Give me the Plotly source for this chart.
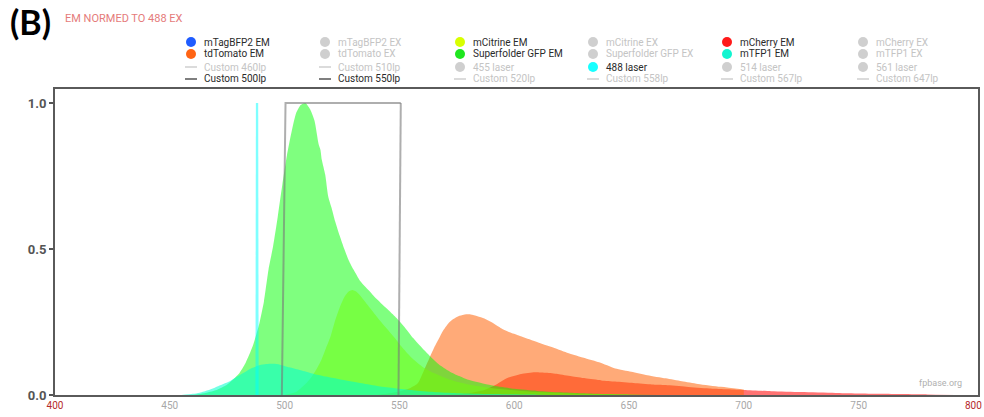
import plotly.graph_objects as go

# ---------------------------------------------------------------- data
# Emission spectra (normalised to 488 nm excitation), wavelength in nm
sfgfp_wl = [460, 465, 470, 475, 480, 483, 486, 489, 491, 493, 495, 497, 499, 501, 503, 505, 507, 509,
            511, 513, 514.8, 515.6, 516.2, 517.7, 519, 520.5, 522, 524, 526, 528, 530, 533, 536.5, 540,
            544, 548, 552, 556, 560, 564, 568, 572, 576, 580, 590, 600, 610, 620, 635, 650, 670]
sfgfp_em = [0.0, 0.006, 0.016, 0.036, 0.072, 0.11, 0.165, 0.245, 0.32, 0.43, 0.51, 0.61, 0.72, 0.82,
            0.9, 0.965, 0.993, 1.0, 0.98, 0.94, 0.86, 0.84, 0.806, 0.754, 0.68, 0.64, 0.595, 0.545, 0.5,
            0.46, 0.43, 0.39, 0.36, 0.33, 0.30, 0.27, 0.235, 0.195, 0.16, 0.128, 0.1, 0.08, 0.065, 0.052,
            0.033, 0.021, 0.014, 0.009, 0.004, 0.002, 0.0]

citrine_wl = [500, 505, 510, 512, 514, 516, 518, 520, 522, 524, 526, 528, 529.5, 531, 533, 536, 540,
              544, 548, 551, 555, 560, 565, 570, 575, 580, 590, 600, 610, 620, 630, 650, 660]
citrine_em = [0.0, 0.01, 0.045, 0.065, 0.09, 0.12, 0.16, 0.2, 0.255, 0.3, 0.335, 0.355, 0.36, 0.355,
              0.34, 0.31, 0.27, 0.232, 0.195, 0.165, 0.13, 0.097, 0.075, 0.058, 0.045, 0.036, 0.024,
              0.016, 0.01, 0.007, 0.004, 0.001, 0.0]

tdtomato_wl = [540, 545, 550, 555, 558, 561, 563, 565, 567, 569, 571.3, 573.5, 575.7, 578, 581, 584,
               587, 590, 594.5, 598, 602, 608, 616, 623, 631, 637, 644, 651, 658, 666, 673, 680, 690, 700]
tdtomato_em = [0.0, 0.005, 0.012, 0.025, 0.04, 0.09, 0.125, 0.16, 0.19, 0.22, 0.245, 0.26, 0.27, 0.275,
               0.276, 0.27, 0.262, 0.25, 0.228, 0.215, 0.204, 0.187, 0.165, 0.145, 0.126, 0.112, 0.091,
               0.08, 0.068, 0.057, 0.047, 0.038, 0.028, 0.019]

mcherry_wl = [570, 580, 587, 592, 597, 603, 609, 614, 619, 625, 631, 638, 644, 652, 660, 666, 675, 685,
              700, 712, 725, 740, 760, 780, 795]
mcherry_em = [0.0, 0.006, 0.017, 0.035, 0.058, 0.072, 0.078, 0.076, 0.072, 0.064, 0.057, 0.05, 0.046,
              0.041, 0.036, 0.034, 0.028, 0.022, 0.017, 0.013, 0.01, 0.007, 0.004, 0.002, 0.0]

mtfp1_wl = [455, 460, 463, 467, 471, 475.6, 479, 483, 486, 489, 492, 495, 498, 502, 507, 512, 518, 525,
            533.6, 541, 548, 556, 565, 575, 590, 610, 620]
mtfp1_em = [0.0, 0.004, 0.008, 0.017, 0.03, 0.045, 0.062, 0.08, 0.093, 0.102, 0.106, 0.107, 0.104, 0.095,
            0.085, 0.074, 0.063, 0.052, 0.04, 0.03, 0.023, 0.016, 0.01, 0.006, 0.003, 0.001, 0.0]

laser488_wl = [487.3, 487.5, 488.5, 488.7]
laser488_int = [0.0, 1.0, 1.0, 0.0]

lp500_wl = [498.8, 500.4, 550.6]
lp500_tr = [0.0, 1.0, 1.0]
lp550_wl = [550.6, 549.6]
lp550_tr = [1.0, 0.0]

x_ticks = [400, 450, 500, 550, 600, 650, 700, 750, 800]
y_ticks = [0.0, 0.5, 1.0]
y_tick_labels = ["0.0", "0.5", "1.0"]

# legend grid (row-major): label, symbol kind, shown?, colour
legend_names = [
    "mTagBFP2 EM", "mTagBFP2 EX", "mCitrine EM", "mCitrine EX", "mCherry EM", "mCherry EX",
    "tdTomato EM", "tdTomato EX", "Superfolder GFP EM", "Superfolder GFP EX", "mTFP1 EM", "mTFP1 EX",
    "Custom 460lp", "Custom 510lp", "455 laser", "488 laser", "514 laser", "561 laser",
    "Custom 500lp", "Custom 550lp", "Custom 520lp", "Custom 558lp", "Custom 567lp", "Custom 647lp",
]
legend_kinds = ["dot"] * 12 + ["line", "line", "dot", "dot", "dot", "dot"] + ["line"] * 6
legend_on = [True, False, True, False, True, False,
             True, False, True, False, True, False,
             False, False, False, True, False, False,
             True, True, False, False, False, False]
legend_colors = ["#1f5cff", None, "#d8ff00", None, "#ff1a1a", None,
                 "#ff6414", None, "#1fe61f", None, "#12f5d0", None,
                 None, None, None, "#18ffff", None, None,
                 "#555555", "#555555", None, None, None, None]

# ---------------------------------------------------------------- layout helpers
W, H = 984, 417
ML, MR, MT, MB = 55, 6, 89, 22
PW, PH = W - ML - MR, H - MT - MB


def fx(p):
    return (p - ML) / PW


def fy(p):
    return (H - MB - p) / PH


fig = go.Figure()


def add_fill(x, y, color, name):
    fig.add_trace(go.Scatter(
        x=x, y=y, name=name, mode="lines", fill="tozeroy",
        fillcolor=color, line=dict(width=0, shape="spline", smoothing=0.6),
        hoverinfo="skip", showlegend=False))


add_fill(mcherry_wl, mcherry_em, "rgba(255,0,0,0.55)", "mCherry EM")
add_fill(tdtomato_wl, tdtomato_em, "rgba(255,100,10,0.55)", "tdTomato EM")
add_fill(citrine_wl, citrine_em, "rgba(221,255,17,0.5)", "mCitrine EM")
add_fill(sfgfp_wl, sfgfp_em, "rgba(0,255,0,0.5)", "Superfolder GFP EM")
add_fill(mtfp1_wl, mtfp1_em, "rgba(0,255,205,0.55)", "mTFP1 EM")

fig.add_trace(go.Scatter(
    x=laser488_wl, y=laser488_int, name="488 laser", mode="lines", fill="toself",
    fillcolor="rgba(0,255,255,0.5)", line=dict(width=0), hoverinfo="skip", showlegend=False))

for xs, ys, nm in [(lp500_wl, lp500_tr, "Custom 500lp"), (lp550_wl, lp550_tr, "Custom 550lp")]:
    fig.add_trace(go.Scatter(
        x=xs, y=ys, name=nm, mode="lines",
        line=dict(color="rgba(120,120,120,0.6)", width=2),
        hoverinfo="skip", showlegend=False))

# ---------------------------------------------------------------- legend grid
LEG_X = [191, 325, 460, 593, 727, 863]
LEG_Y = [42, 54, 67, 79]
INACTIVE = "#cfcfcf"
shapes, annots = [], []
for i, name in enumerate(legend_names):
    r, c = divmod(i, 6)
    cx, cy = LEG_X[c], LEG_Y[r]
    on = legend_on[i]
    col = legend_colors[i] if on else INACTIVE
    if legend_kinds[i] == "dot":
        shapes.append(dict(type="circle", xref="paper", yref="paper",
                           xsizemode="pixel", ysizemode="pixel",
                           xanchor=fx(cx), yanchor=fy(cy), x0=-5, x1=5, y0=-5, y1=5,
                           fillcolor=col, line=dict(width=0)))
    else:
        shapes.append(dict(type="line", xref="paper", yref="paper",
                           x0=fx(cx - 6), x1=fx(cx + 6), y0=fy(cy), y1=fy(cy),
                           line=dict(color=col, width=1.5)))
    annots.append(dict(text=name, x=fx(cx + 11), y=fy(cy), xref="paper", yref="paper",
                       xanchor="left", yanchor="middle", showarrow=False,
                       font=dict(family="Roboto", size=10,
                                 color="#2a2a2a" if on else "#c4c4c4")))

annots.append(dict(text="<b>(B)</b>", x=fx(8), y=fy(22), xref="paper", yref="paper",
                   xanchor="left", yanchor="middle", showarrow=False,
                   font=dict(family="Lato", size=34, color="#000000")))
annots.append(dict(text="EM NORMED TO 488 EX", x=fx(63), y=fy(19), xref="paper", yref="paper",
                   xanchor="left", yanchor="middle", showarrow=False,
                   font=dict(family="Roboto", size=11, color="#e57b7b")))
annots.append(dict(text="fpbase.org", x=fx(964), y=fy(383), xref="paper", yref="paper",
                   xanchor="right", yanchor="middle", showarrow=False,
                   font=dict(family="Roboto", size=9, color="#b0b0b0")))

x_labels = []
for t in x_ticks:
    if t in (x_ticks[0], x_ticks[-1]):
        x_labels.append(f"<span style='color:#b52a2a'>{t}</span>")
    else:
        x_labels.append(str(t))

fig.update_layout(
    width=W, height=H,
    margin=dict(l=ML, r=MR, t=MT, b=MB, pad=0, autoexpand=False),
    paper_bgcolor="white", plot_bgcolor="white",
    showlegend=False,
    shapes=shapes, annotations=annots,
    xaxis=dict(range=[400, 802], tickvals=x_ticks, ticktext=x_labels, automargin=False,
               ticklabeloverflow="allow",
               showgrid=False, zeroline=False, ticks="", ticklen=0,
               showline=True, linecolor="#5a5a5a", linewidth=2, mirror=True,
               tickfont=dict(family="Roboto", size=10, color="#a8a8a8")),
    yaxis=dict(range=[0, 1.048], tickvals=y_ticks, ticktext=[f"<b>{s}</b>" for s in y_tick_labels],
               automargin=False,
               showgrid=False, zeroline=False, ticks="outside", ticklen=4, tickwidth=2,
               tickcolor="#555555",
               showline=True, linecolor="#5a5a5a", linewidth=2, mirror=True,
               tickfont=dict(family="Roboto", size=13, color="#555555")),
)

fig.write_html("out.html")
